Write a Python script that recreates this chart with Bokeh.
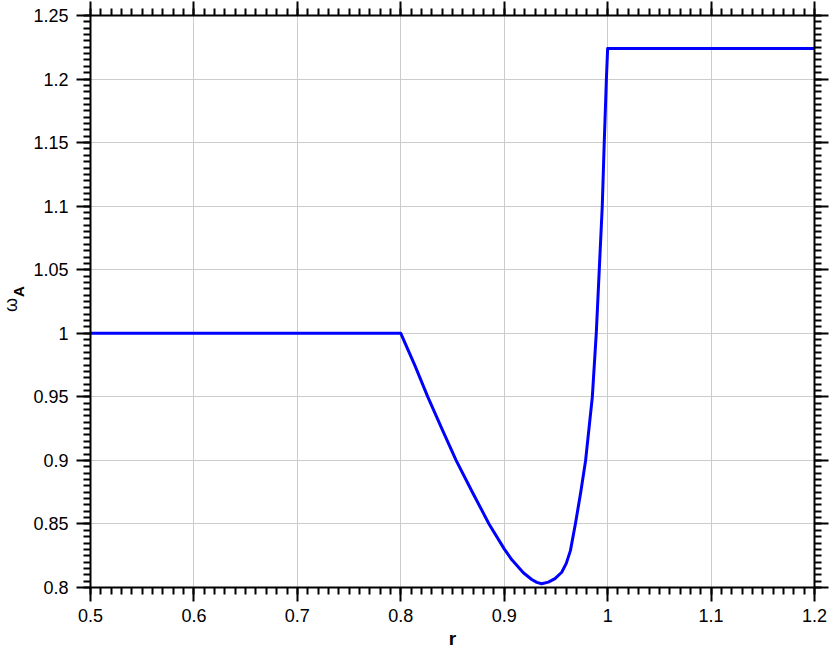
import numpy as np
from math import pi
from bokeh.plotting import figure
from bokeh.layouts import row
from bokeh.models import Range1d, LinearAxis, FixedTicker
from bokeh.core.properties import value
from bokeh.embed import file_html
from bokeh.resources import INLINE

# ---- data ----
r_vals = [0.5, 0.8, 0.8138, 0.8261, 0.84, 0.8535, 0.87, 0.8853, 0.9, 0.9072,
          0.9185, 0.9266, 0.9315, 0.9362, 0.9427, 0.9491, 0.9556, 0.960,
          0.964, 0.9688, 0.9739, 0.9787, 0.9852, 0.989, 0.9919, 0.9948,
          0.9967, 0.9988, 1.0, 1.2]
omega_vals = [1.0, 1.0, 0.9743, 0.95, 0.9244, 0.9, 0.8738, 0.85, 0.8304, 0.822,
              0.8116, 0.8063, 0.8040, 0.8029, 0.8042, 0.8070, 0.8120, 0.819,
              0.829, 0.85, 0.8745, 0.9, 0.95, 1.0, 1.05, 1.1,
              1.15, 1.2, 1.224, 1.224]

x_ticks = [0.5, 0.6, 0.7, 0.8, 0.9, 1.0, 1.1, 1.2]
x_tick_labels = ["0.5", "0.6", "0.7", "0.8", "0.9", "1", "1.1", "1.2"]
y_ticks = [0.8, 0.85, 0.9, 0.95, 1.0, 1.05, 1.1, 1.15, 1.2, 1.25]
y_tick_labels = ["0.8", "0.85", "0.9", "0.95", "1", "1.05", "1.1", "1.15", "1.2", "1.25"]

x_label = "r"
y_label_main = "ω"
y_label_sub = "A"

FONT = "Liberation Sans"
W, H = 830, 647
LABEL_W = 30

x_minor = [round(v, 4) for v in np.arange(0.5, 1.2001, 0.01)]
y_minor = [round(v, 4) for v in np.arange(0.8, 1.2501, 0.005)]

xticker = FixedTicker(ticks=x_ticks, minor_ticks=x_minor)
yticker = FixedTicker(ticks=y_ticks, minor_ticks=y_minor)

y_range = Range1d(0.8, 1.25)

# ---- narrow strip carrying the rotated y-axis title (shares the y range) ----
lab = figure(width=LABEL_W, height=H, x_range=Range1d(0, LABEL_W),
             y_range=y_range, output_backend="svg", title=None,
             toolbar_location=None, x_axis_location=None, y_axis_location=None,
             min_border=0)
lab.outline_line_color = None
lab.xgrid.visible = False
lab.ygrid.visible = False
lab.text(x=[10.5], y=[1.0207], text=[y_label_main], angle=pi / 2,
         text_font=value(FONT), text_font_size="18px",
         text_align="center", text_baseline="middle", text_color="black")
lab.text(x=[18], y=[1.0313], text=[y_label_sub], angle=pi / 2,
         text_font=value(FONT), text_font_size="15px", text_font_style="bold",
         text_align="center", text_baseline="middle", text_color="black")

# ---- main plot ----
p = figure(width=W - LABEL_W, height=H, frame_width=724, frame_height=572,
           x_range=Range1d(0.5, 1.2), y_range=y_range,
           output_backend="svg", toolbar_location=None,
           min_border_left=90 - LABEL_W, min_border_right=16,
           min_border_top=15, min_border_bottom=60)
p.outline_line_color = None

top_axis = LinearAxis()
right_axis = LinearAxis()
p.add_layout(top_axis, "above")
p.add_layout(right_axis, "right")

bottom_axis = p.below[0]
left_axis = p.left[0]


def style_axis(ax, ticker, labels, show, standoff):
    ax.ticker = ticker
    ax.axis_line_color = "black"
    ax.axis_line_width = 2
    ax.major_tick_line_color = "black"
    ax.major_tick_line_width = 2
    ax.minor_tick_line_color = "black"
    ax.minor_tick_line_width = 2
    ax.major_tick_in = 0
    ax.major_tick_out = 14
    ax.minor_tick_in = 0
    ax.minor_tick_out = 7
    if show:
        ax.major_label_overrides = dict(zip(ticker.ticks, labels))
        ax.major_label_text_font = FONT
        ax.major_label_text_font_size = "18px"
        ax.major_label_text_color = "black"
        ax.major_label_standoff = standoff
    else:
        ax.major_label_text_font_size = "0px"
        ax.major_label_standoff = 0
        ax.major_label_overrides = {t: "" for t in ticker.ticks}


style_axis(bottom_axis, xticker, x_tick_labels, True, 7)
style_axis(left_axis, yticker, y_tick_labels, True, 8)
style_axis(top_axis, xticker, x_tick_labels, False, 0)
style_axis(right_axis, yticker, y_tick_labels, False, 0)

bottom_axis.axis_label = x_label
bottom_axis.axis_label_text_font = FONT
bottom_axis.axis_label_text_font_size = "19px"
bottom_axis.axis_label_text_font_style = "bold"
bottom_axis.axis_label_text_color = "black"
bottom_axis.axis_label_standoff = 3

p.xgrid.ticker = xticker
p.ygrid.ticker = yticker
for g in (p.xgrid, p.ygrid):
    g.grid_line_color = "#cccccc"
    g.grid_line_width = 1

p.line(r_vals, omega_vals, line_color="#0000ff", line_width=3,
       line_join="round")

layout = row(lab, p)
open("out.html", "w").write(file_html(layout, INLINE))
